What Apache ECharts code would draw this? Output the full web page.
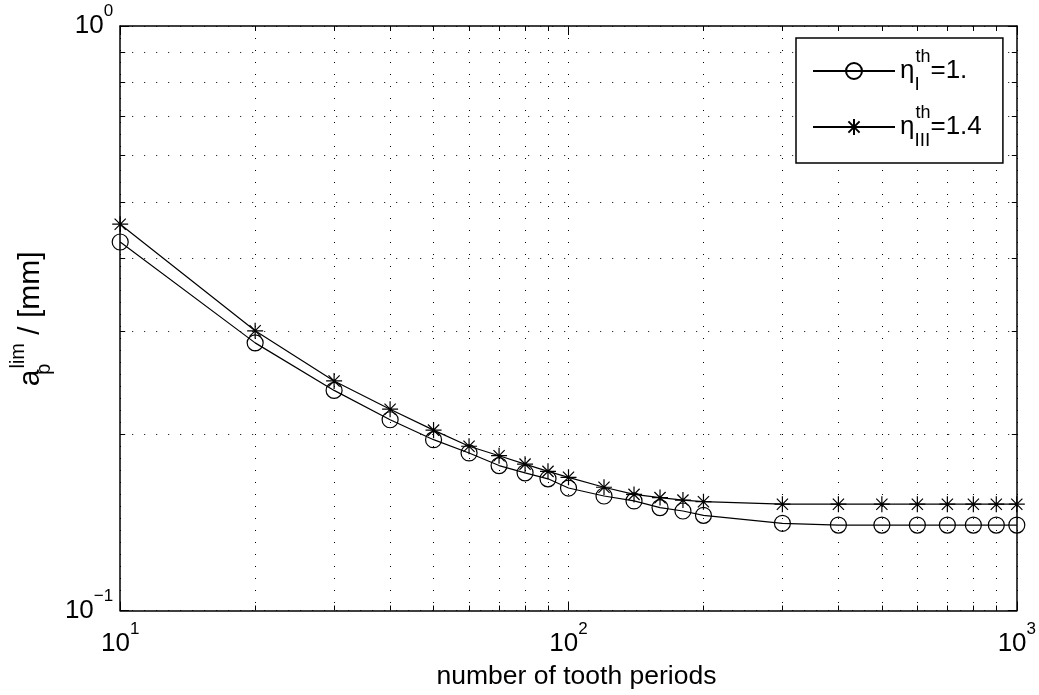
<!DOCTYPE html>
<html><head><meta charset="utf-8">
<script src="https://cdn.jsdelivr.net/npm/echarts@6/dist/echarts.min.js"></script>
<style>html,body{margin:0;padding:0;background:#fff}#c{width:1039px;height:695px}</style>
</head><body><div id="c"></div>
<script>
// ---- data ----
const toothPeriods = [10,20,30,40,50,60,70,80,90,100,120,140,160,180,200,300,400,500,600,700,800,900,1000];
const etaI   = [0.427,0.287,0.238,0.212,0.196,0.186,0.177,0.172,0.168,0.162,0.157,0.154,0.150,0.148,0.1455,0.141,0.140,0.140,0.140,0.140,0.140,0.140,0.140];
const etaIII = [0.458,0.301,0.247,0.221,0.2035,0.191,0.184,0.178,0.173,0.169,0.1625,0.158,0.156,0.1545,0.1535,0.152,0.152,0.152,0.152,0.152,0.152,0.152,0.152];
const xMajorTicks = [10,100,1000];
const xMinorTicks = [20,30,40,50,60,70,80,90,200,300,400,500,600,700,800,900];
const yMajorTicks = [0.1,1];
const yMinorTicks = [0.2,0.3,0.4,0.5,0.6,0.7,0.8,0.9];
const legendSubs = ['I','III'];
const legendVals = ['1.','1.4'];
const seriesNames = ['etaI','etaIII'];
const xTitle = 'number of tooth periods';

const FONT = 'Liberation Sans';
const dotted = {type:[1,11], color:'#000', width:1};
const expLabel = v => {
  const e = Math.round(Math.log10(v));
  return '{b|10}{s|' + (e < 0 ? '\u2212' + (-e) : e) + '}';
};
const labelRich = {
  b:{fontSize:26, fontFamily:FONT, color:'#000', lineHeight:46},
  s:{fontSize:17, fontFamily:FONT, color:'#000', lineHeight:18, verticalAlign:'top'}
};

function axis(dim, pos, ticks, len, opts){
  const isX = dim === 'x';
  return Object.assign({
    type:'log', logBase:10, position:pos,
    min: isX ? 10 : 0.1, max: isX ? 1000 : 1,
    axisLine:{show:false, onZero:false},
    axisTick:{show:true, inside:true, length:len, customValues:ticks, lineStyle:{color:'#000', width:1}},
    axisLabel:{show:false},
    splitLine:{show:false}
  }, opts || {});
}

const chart = echarts.init(document.getElementById('c'), null, {renderer:'canvas'});
chart.setOption({
  animation:false,
  backgroundColor:'#fff',
  grid:{left:120, right:21, top:26, bottom:79, containLabel:false},
  xAxis:[
    axis('x','bottom',xMajorTicks,9,{
      axisLine:{show:true, onZero:false, lineStyle:{color:'#000', width:1.5}},
      axisLabel:{show:true, customValues:xMajorTicks, margin:10, formatter:expLabel, rich:labelRich},
      splitLine:{show:true, lineStyle:dotted},
      name:xTitle, nameLocation:'middle', nameGap:66,
      nameTextStyle:{fontSize:26.5, fontFamily:FONT, color:'#000', verticalAlign:'middle', padding:[0,0,0,16]}
    }),
    axis('x','bottom',xMinorTicks,5,{splitLine:{show:true, lineStyle:dotted}}),
    axis('x','top',xMajorTicks,9,{axisLine:{show:true, onZero:false, lineStyle:{color:'#000', width:1.5}}}),
    axis('x','top',xMinorTicks,5)
  ],
  yAxis:[
    axis('y','left',yMajorTicks,9,{
      axisLine:{show:true, onZero:false, lineStyle:{color:'#000', width:1.5}},
      axisLabel:{show:true, customValues:yMajorTicks, margin:7, formatter:expLabel, rich:labelRich},
      splitLine:{show:true, lineStyle:dotted},
      name:'{a|a}{sub|p}{sup|lim}{t| / [mm]}{z| }', nameLocation:'middle', nameGap:27,
      nameTextStyle:{fontSize:30, fontFamily:FONT, color:'#000', rich:{
        a:{fontSize:30, fontFamily:FONT, color:'#000', lineHeight:46},
        sub:{fontSize:20, fontFamily:FONT, color:'#000', verticalAlign:'bottom', width:1},
        sup:{fontSize:20, fontFamily:FONT, color:'#000', verticalAlign:'top'},
        t:{fontSize:30, fontFamily:FONT, color:'#000', lineHeight:46},
        z:{fontSize:4, fontFamily:FONT, color:'#000', lineHeight:46}
      }}
    }),
    axis('y','left',yMinorTicks,5,{splitLine:{show:true, lineStyle:dotted}}),
    axis('y','right',yMajorTicks,9,{axisLine:{show:true, onZero:false, lineStyle:{color:'#000', width:1.5}}}),
    axis('y','right',yMinorTicks,5)
  ],
  legend:{
    orient:'vertical', left:796, top:38,
    padding:[10,20,13,16], itemGap:10, itemWidth:82, itemHeight:20,
    backgroundColor:'#fff', borderColor:'#000', borderWidth:1.5, borderRadius:0,
    selectedMode:false,
    data:seriesNames,
    formatter: name => {
      const i = seriesNames.indexOf(name);
      return '{e|\u03b7}{sub|' + legendSubs[i] + '}{sup|th}{t|=' + legendVals[i] + '}{z| }';
    },
    textStyle:{color:'#000', fontFamily:FONT, fontSize:26, rich:{
      e:{fontSize:26, fontFamily:FONT, color:'#000', lineHeight:46},
      sub:{fontSize:19, fontFamily:FONT, color:'#000', verticalAlign:'bottom', width:1},
      sup:{fontSize:18, fontFamily:FONT, color:'#000', verticalAlign:'top'},
      t:{fontSize:26, fontFamily:FONT, color:'#000', lineHeight:46},
      z:{fontSize:4, fontFamily:FONT, color:'#000', lineHeight:46}
    }}
  },
  series:[
    {
      name:seriesNames[0], type:'line', xAxisIndex:0, yAxisIndex:0,
      data: toothPeriods.map((x,i)=>[x, etaI[i]]),
      symbol:'circle', symbolSize:16,
      lineStyle:{color:'#000', width:1.2},
      itemStyle:{color:'rgba(0,0,0,0)', borderColor:'#000', borderWidth:1.2},
      emphasis:{disabled:true}, silent:true
    },
    {
      name:seriesNames[1], type:'line', xAxisIndex:0, yAxisIndex:0,
      data: toothPeriods.map((x,i)=>[x, etaIII[i]]),
      symbol:'path://M0,8L16,8M8,0L8,16M2.4,2.4L13.6,13.6M13.6,2.4L2.4,13.6', symbolSize:16,
      lineStyle:{color:'#000', width:1.2},
      itemStyle:{color:'#000', borderColor:'#000', borderWidth:1.2},
      emphasis:{disabled:true}, silent:true
    }
  ]
});
</script>
</body></html>
